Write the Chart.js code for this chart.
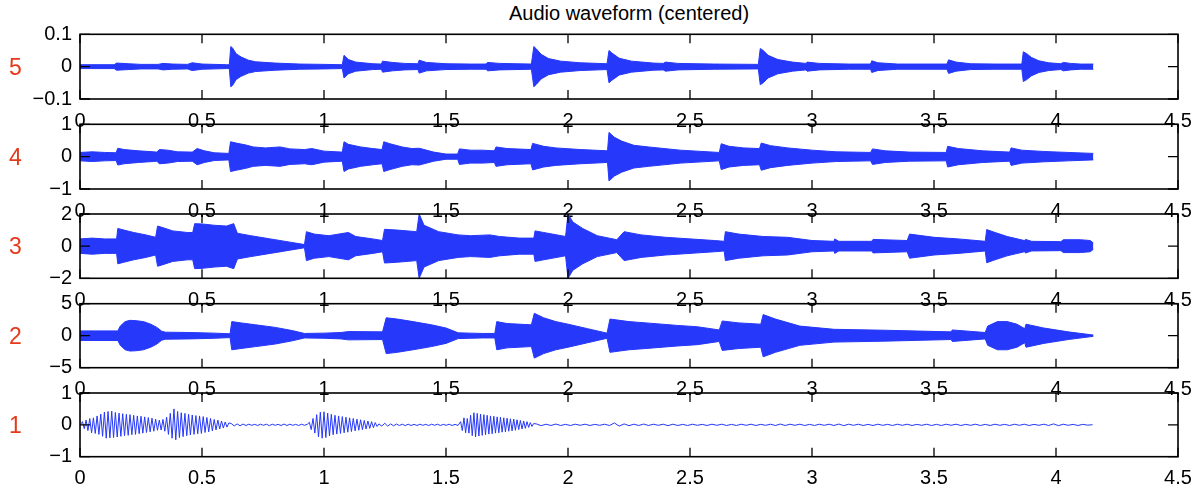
<!DOCTYPE html>
<html><head><meta charset="utf-8">
<script src="https://cdn.jsdelivr.net/npm/chart.js@4.4.1/dist/chart.umd.min.js"></script>
<style>
html,body{margin:0;padding:0;background:#fff;}
#wrap{position:relative;width:1204px;height:495px;overflow:hidden;background:#fff;}
#wrap canvas{position:absolute;left:0;top:0;}
#title{position:absolute;left:0;width:1258px;text-align:center;top:2px;font:20px 'Liberation Sans',Arial,sans-serif;color:#000;white-space:nowrap;}
.lab{position:absolute;left:9px;font:23px/26px 'Liberation Sans',Arial,sans-serif;color:#e43a1a;}
</style></head><body>
<div id="wrap">
<div id="title">Audio waveform (centered)</div>
<canvas id="c5" width="1204" height="495"></canvas>
<canvas id="c4" width="1204" height="495"></canvas>
<canvas id="c3" width="1204" height="495"></canvas>
<canvas id="c2" width="1204" height="495"></canvas>
<canvas id="c1" width="1204" height="495"></canvas>
</div>
<script>
// ---------------- DATA ----------------
const xTickStep = 0.5;           // x ticks 0 .. 4.5
const xMax = 4.5;
const panelNames = ['5','4','3','2','1'];
const yLimits = [0.1, 1, 2, 5, 1];
const yTickSteps = [0.1, 1, 2, 5, 1];

// Panel 5: envelope (time s, amplitude)
const t5 = [0,0.14,0.15,0.2,0.25,0.32,0.34,0.38,0.44,0.46,0.5,0.6,0.612,0.618,0.625,0.64,0.66,0.69,0.72,0.8,0.9,1.0,1.075,1.082,1.1,1.13,1.2,1.235,1.24,1.28,1.33,1.385,1.39,1.42,1.5,1.6,1.665,1.67,1.72,1.85,1.86,1.87,1.89,1.92,1.97,2.05,2.16,2.168,2.18,2.21,2.26,2.35,2.39,2.4,2.45,2.6,2.78,2.788,2.8,2.82,2.86,2.92,2.975,2.98,3.03,3.15,3.24,3.245,3.27,3.35,3.45,3.553,3.56,3.59,3.65,3.75,3.86,3.866,3.88,3.9,3.93,3.97,4.02,4.03,4.06,4.1,4.153];
const a5 = [0.006,0.006,0.011,0.009,0.007,0.007,0.01,0.008,0.007,0.012,0.008,0.006,0.006,0.062,0.058,0.04,0.03,0.02,0.015,0.011,0.008,0.007,0.006,0.035,0.022,0.014,0.009,0.008,0.017,0.013,0.01,0.009,0.02,0.013,0.009,0.008,0.008,0.013,0.01,0.008,0.062,0.055,0.038,0.025,0.017,0.012,0.009,0.05,0.042,0.026,0.017,0.011,0.01,0.014,0.01,0.008,0.007,0.056,0.05,0.035,0.022,0.014,0.01,0.014,0.01,0.008,0.008,0.018,0.012,0.008,0.008,0.008,0.021,0.014,0.009,0.008,0.008,0.046,0.04,0.028,0.018,0.012,0.009,0.013,0.01,0.008,0.008];

// Panel 4
const t4 = [0,0.05,0.1,0.148,0.155,0.18,0.24,0.3,0.315,0.325,0.36,0.4,0.46,0.48,0.51,0.55,0.61,0.617,0.64,0.68,0.71,0.76,0.82,0.86,0.92,0.95,1.0,1.075,1.082,1.1,1.15,1.2,1.238,1.245,1.27,1.32,1.36,1.39,1.45,1.5,1.548,1.555,1.6,1.65,1.698,1.705,1.75,1.848,1.855,1.9,1.95,2.05,2.162,2.168,2.19,2.22,2.27,2.33,2.46,2.62,2.628,2.66,2.72,2.785,2.792,2.83,2.9,3.0,3.1,3.24,3.248,3.3,3.4,3.55,3.556,3.6,3.7,3.81,3.816,3.86,3.95,4.05,4.153];
const a4 = [0.13,0.15,0.13,0.12,0.26,0.22,0.18,0.15,0.14,0.22,0.2,0.15,0.14,0.25,0.18,0.12,0.1,0.46,0.42,0.36,0.3,0.27,0.3,0.24,0.22,0.25,0.17,0.14,0.46,0.38,0.3,0.25,0.22,0.46,0.4,0.3,0.25,0.26,0.14,0.08,0.08,0.24,0.2,0.2,0.18,0.3,0.25,0.22,0.41,0.32,0.27,0.22,0.18,0.75,0.6,0.48,0.35,0.3,0.2,0.13,0.4,0.32,0.27,0.25,0.42,0.34,0.27,0.2,0.15,0.13,0.24,0.18,0.14,0.13,0.32,0.25,0.18,0.14,0.27,0.2,0.16,0.13,0.1];

// Panel 3
const t3 = [0,0.05,0.1,0.15,0.155,0.18,0.22,0.27,0.31,0.318,0.34,0.38,0.44,0.462,0.47,0.5,0.55,0.6,0.63,0.645,0.7,0.78,0.86,0.92,0.928,0.96,1.02,1.1,1.13,1.2,1.24,1.248,1.3,1.38,1.39,1.41,1.47,1.55,1.6,1.68,1.72,1.8,1.86,1.865,1.9,1.99,2.0,2.02,2.06,2.12,2.2,2.23,2.3,2.4,2.6,2.64,2.645,2.7,2.8,2.9,3.0,3.09,3.093,3.11,3.245,3.25,3.39,3.4,3.5,3.6,3.71,3.716,3.75,3.8,3.87,3.875,3.9,4.02,4.03,4.1,4.14,4.153];
const a3 = [0.45,0.5,0.45,0.45,1.1,1.0,0.85,0.7,0.55,1.25,1.15,0.95,0.85,0.85,1.4,1.38,1.3,1.25,1.4,0.8,0.65,0.45,0.25,0.1,0.9,0.75,0.65,0.85,0.6,0.45,0.35,1.05,1.0,0.9,2.0,1.3,0.9,0.7,0.65,0.7,0.6,0.5,0.5,0.95,0.85,0.6,2.0,1.5,1.1,0.65,0.4,0.9,0.7,0.55,0.35,0.3,0.9,0.75,0.6,0.55,0.35,0.3,0.45,0.3,0.3,0.42,0.35,0.75,0.55,0.45,0.3,1.03,0.85,0.6,0.35,0.42,0.3,0.28,0.4,0.4,0.35,0.2];

// Panel 2
const t2 = [0,0.155,0.165,0.185,0.205,0.23,0.26,0.29,0.315,0.335,0.35,0.45,0.55,0.615,0.622,0.66,0.72,0.8,0.87,0.92,1.0,1.07,1.1,1.24,1.255,1.3,1.365,1.44,1.5,1.55,1.6,1.65,1.7,1.708,1.75,1.85,1.862,1.9,1.95,2.0,2.08,2.16,2.172,2.25,2.32,2.45,2.53,2.62,2.632,2.7,2.79,2.8,2.85,2.95,3.09,3.3,3.57,3.575,3.71,3.72,3.76,3.8,3.84,3.872,3.877,3.95,4.05,4.153];
const a2 = [0.75,0.75,1.5,2.2,2.4,2.35,2.2,1.8,1.3,0.7,0.55,0.5,0.4,0.3,2.2,2.0,1.7,1.3,0.8,0.35,0.4,0.5,0.65,0.6,2.8,2.6,2.2,1.7,1.2,0.45,0.4,0.35,0.35,2.2,1.9,1.7,3.5,2.8,2.2,1.8,1.1,0.4,2.6,2.2,2.0,1.6,1.4,0.9,2.3,2.0,1.8,3.3,2.6,1.5,1.0,0.85,0.6,0.9,0.5,1.5,2.2,2.2,1.8,1.1,1.8,1.2,0.6,0.1];

// Panel 1: waveform segments (segment start time, sample spacing, values)
const p1Start = [0, 0.01, 0.62, 0.94, 1.225, 1.56, 1.87];
const p1Step  = [0.005, 0.0075, 0.012, 0.0075, 0.012, 0.0068, 0.02];
const p1Lead   = [0, 0.04];
const p1Burst1 = [0.1,-0.12,0.15,-0.18,0.2,-0.25,0.22,-0.27,0.28,-0.3,0.34,-0.36,0.4,-0.42,0.42,-0.41,0.43,-0.4,0.39,-0.38,0.37,-0.36,0.35,-0.34,0.33,-0.33,0.32,-0.31,0.3,-0.3,0.28,-0.28,0.27,-0.26,0.25,-0.24,0.23,-0.22,0.21,-0.2,0.18,-0.17,0.15,-0.16,0.17,-0.2,0.24,-0.3,0.36,-0.42,0.5,-0.47,0.42,-0.4,0.38,-0.37,0.36,-0.34,0.33,-0.32,0.31,-0.3,0.29,-0.28,0.28,-0.27,0.26,-0.24,0.23,-0.22,0.2,-0.19,0.17,-0.16,0.15,-0.13,0.12,-0.1,0.09,-0.07,0.06];
const p1Flat1  = [0.04,-0.035,0.03,-0.03,0.025,-0.02,0.02,-0.015,0.015,-0.02,0.02,-0.015,0.02,-0.025,0.02,-0.015,0.015,-0.02,0.025,-0.02,0.02,-0.015,0.015,-0.02,0.02,-0.015,0.02];
const p1Burst2 = [0.08,-0.15,0.2,-0.26,0.32,-0.38,0.4,-0.42,0.41,-0.4,0.37,-0.35,0.33,-0.31,0.3,-0.29,0.28,-0.27,0.26,-0.25,0.24,-0.23,0.22,-0.21,0.2,-0.19,0.18,-0.17,0.16,-0.15,0.14,-0.13,0.12,-0.11,0.1,-0.09,0.07,-0.05];
const p1Flat2  = [0.03,-0.04,0.05,-0.04,0.03,-0.03,0.025,-0.02,0.02,-0.025,0.02,-0.02,0.015,-0.02,0.02,-0.015,0.015,-0.02,0.02,-0.015,0.02,-0.02,0.015,-0.015,0.02,-0.02,0.015,-0.02];
const p1Burst3 = [0.1,-0.18,0.22,-0.25,0.2,-0.26,0.3,-0.34,0.38,-0.38,0.36,-0.35,0.34,-0.33,0.32,-0.31,0.3,-0.29,0.28,-0.28,0.27,-0.26,0.25,-0.25,0.24,-0.23,0.22,-0.22,0.21,-0.2,0.19,-0.19,0.18,-0.17,0.16,-0.15,0.14,-0.13,0.12,-0.11,0.1,-0.08,0.07,-0.05,0.04];
const p1Flat3  = [0.03,-0.025,0.02,-0.02,0.025,-0.02,0.015,-0.02,0.02,-0.015,0.02,-0.02,0.015,-0.015,0.02,-0.02,
  0.06,-0.04,0.03,-0.025,
  0.02,-0.02,0.025,-0.02,0.02,-0.015,0.02,-0.025,0.02,-0.02,0.015,-0.02,0.02,-0.015,0.015,-0.02,0.02,-0.015,0.02,-0.02,
  0.015,-0.02,0.02,-0.015,0.02,-0.02,0.015,-0.015,0.02,-0.02,0.025,-0.02,0.02,-0.015,0.02,-0.02,0.015,-0.02,0.02,-0.015,
  0.02,-0.02,0.025,-0.025,0.02,-0.015,0.02,-0.02,0.015,-0.02,0.02,-0.015,0.015,-0.02,0.02,-0.015,0.02,-0.02,0.015,-0.015,
  0.02,-0.02,0.015,-0.02,0.02,-0.015,0.02,-0.02,0.015,-0.015,0.02,-0.02,0.015,-0.02,0.02,-0.015,0.015,-0.02,0.02,-0.015,
  0.02,-0.02,0.015,-0.015,0.02,-0.02,0.03,-0.025,0.02,-0.015,0.015,-0.02,0.015,-0.01,0.005];
const p1Segments = [p1Lead, p1Burst1, p1Flat1, p1Burst2, p1Flat2, p1Burst3, p1Flat3];

// ---------------- LAYOUT / STYLE ----------------
const BLUE = 'rgb(38,56,250)';
const W = 1204, H = 495;
const panelTop = [34.3, 124.3, 214, 303.7, 393];
const panelBottom = [99, 189, 278.3, 367.7, 456.7];
const plotLeft = 80, plotRight = 1178;
const xAxisH = 32;
const FS = 20;

Chart.defaults.font.family = "'Liberation Sans', Arial, Helvetica, sans-serif";
Chart.defaults.color = '#000';

const frame = {
  id: 'frame',
  afterDatasetsDraw(chart) {
    const {ctx, chartArea: a, scales: {x, y}} = chart;
    ctx.save();
    ctx.strokeStyle = '#000';
    ctx.lineWidth = 1.3;
    ctx.beginPath();
    x.ticks.forEach(t => {
      const px = x.getPixelForValue(t.value);
      ctx.moveTo(px, a.top); ctx.lineTo(px, a.top + 9);
      ctx.moveTo(px, a.bottom); ctx.lineTo(px, a.bottom - 9);
    });
    y.ticks.forEach(t => {
      const py = y.getPixelForValue(t.value);
      ctx.moveTo(a.left, py); ctx.lineTo(a.left + 10, py);
      ctx.moveTo(a.right, py); ctx.lineTo(a.right - 10, py);
    });
    ctx.stroke();
    ctx.lineWidth = 1.6;
    ctx.strokeRect(a.left, a.top, a.right - a.left, a.bottom - a.top);
    ctx.restore();
  }
};

function fmt(v) {
  const r = Math.round(v * 1000) / 1000;
  return String(r).replace('-', '\u2212');
}

function makeChart(id, idx, datasets) {
  const yl = yLimits[idx];
  return new Chart(document.getElementById(id), {
    type: 'line',
    data: { datasets },
    options: {
      responsive: false, animation: false, events: [],
      layout: { padding: { left: 0, right: W - plotRight, top: panelTop[idx], bottom: H - panelBottom[idx] - xAxisH } },
      plugins: { legend: { display: false }, tooltip: { enabled: false }, title: { display: false } },
      elements: { point: { radius: 0 }, line: { tension: 0 } },
      scales: {
        x: {
          type: 'linear', min: 0, max: xMax,
          ticks: { stepSize: xTickStep, autoSkip: false, maxRotation: 0, padding: 10, color: '#000', font: { size: FS }, callback: v => fmt(v) },
          grid: { display: false, drawTicks: false }, border: { display: false },
          afterFit: s => { s.height = xAxisH; }
        },
        y: {
          type: 'linear', min: -yl, max: yl,
          ticks: { stepSize: yTickSteps[idx], padding: 8, color: '#000', font: { size: FS }, callback: v => fmt(v) },
          grid: { display: false, drawTicks: false }, border: { display: false },
          afterFit: s => { s.width = plotLeft; }
        }
      }
    },
    plugins: [frame]
  });
}

function envDatasets(times, amps) {
  return [
    { data: times.map((t, i) => ({ x: t, y: amps[i] })), fill: '+1', borderColor: BLUE, backgroundColor: BLUE, borderWidth: 1, pointRadius: 0 },
    { data: times.map((t, i) => ({ x: t, y: -amps[i] })), fill: false, borderColor: BLUE, borderWidth: 1, pointRadius: 0 }
  ];
}

makeChart('c5', 0, envDatasets(t5, a5));
makeChart('c4', 1, envDatasets(t4, a4));
makeChart('c3', 2, envDatasets(t3, a3));
makeChart('c2', 3, envDatasets(t2, a2));

const p1Points = [];
p1Segments.forEach((seg, s) => {
  seg.forEach((v, i) => p1Points.push({ x: p1Start[s] + i * p1Step[s], y: v }));
});
makeChart('c1', 4, [{ data: p1Points, fill: false, borderColor: BLUE, borderWidth: 1, pointRadius: 0 }]);

// red panel labels
const wrap = document.getElementById('wrap');
panelNames.forEach((n, i) => {
  const d = document.createElement('div');
  d.className = 'lab';
  d.textContent = n;
  d.style.top = ((panelTop[i] + panelBottom[i]) / 2 - 13) + 'px';
  wrap.appendChild(d);
});
</script>
</body></html>
